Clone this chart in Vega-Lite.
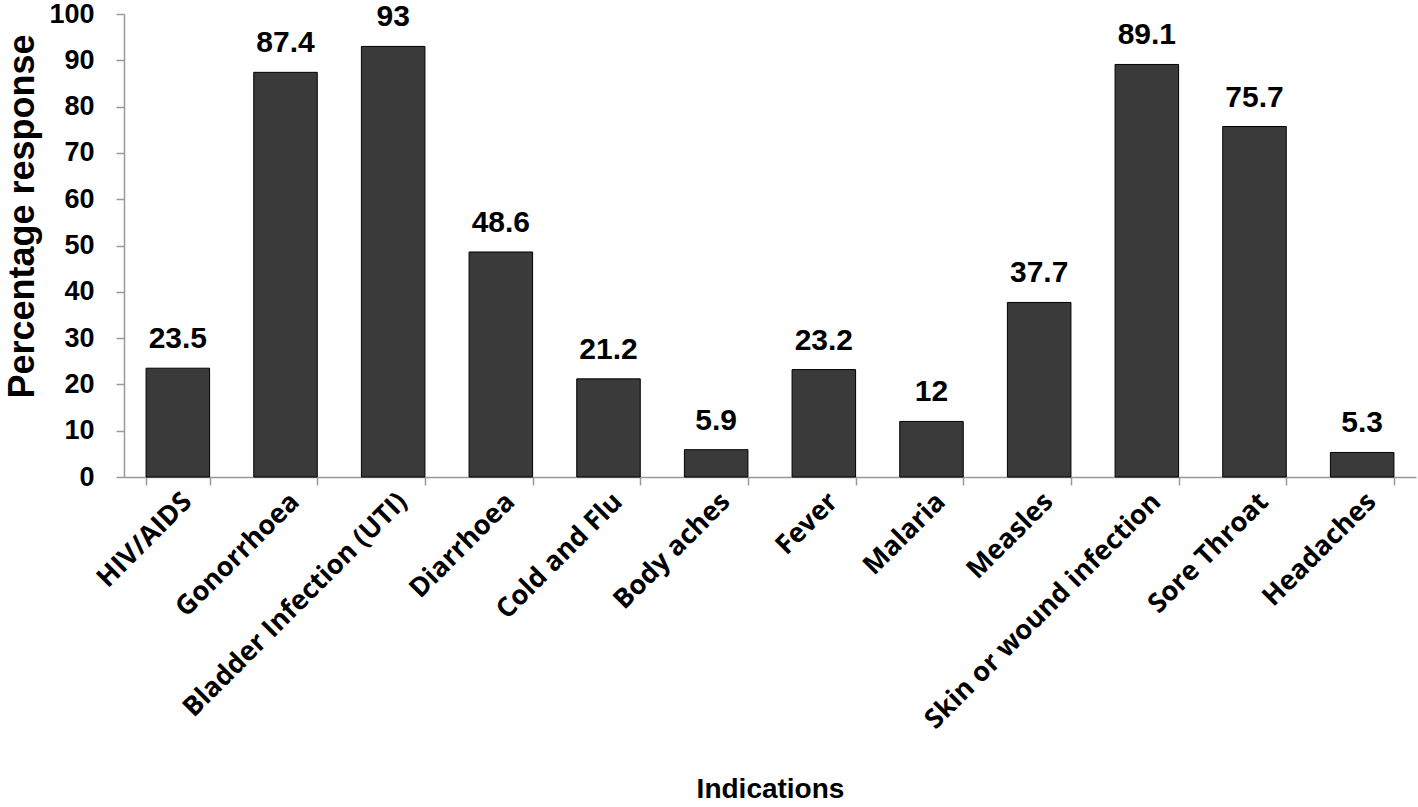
{
  "$schema": "https://vega.github.io/schema/vega-lite/v6.json",
  "autosize": "none",
  "width": 1292,
  "height": 463,
  "padding": {"left": 124, "top": 14, "right": 2, "bottom": 330},
  "background": "white",
  "config": {"view": {"stroke": null}},
  "data": {"values": [
    {"Indication": "HIV/AIDS", "Percent": 23.5},
    {"Indication": "Gonorrhoea", "Percent": 87.4},
    {"Indication": "Bladder Infection (UTI)", "Percent": 93},
    {"Indication": "Diarrhoea", "Percent": 48.6},
    {"Indication": "Cold and Flu", "Percent": 21.2},
    {"Indication": "Body aches", "Percent": 5.9},
    {"Indication": "Fever", "Percent": 23.2},
    {"Indication": "Malaria", "Percent": 12},
    {"Indication": "Measles", "Percent": 37.7},
    {"Indication": "Skin or wound infection", "Percent": 89.1},
    {"Indication": "Sore Throat", "Percent": 75.7},
    {"Indication": "Headaches", "Percent": 5.3}
  ]},
  "encoding": {
    "x": {"field": "Indication", "type": "nominal", "sort": null,
      "scale": {"paddingInner": 0.41, "paddingOuter": 0.205},
      "axis": {"title": "Indications", "titleFont": "Liberation Sans", "titleFontSize": 28, "titleFontWeight": "bold", "titleColor": "black", "titlePadding": 98,
        "labelAngle": -45, "labelAlign": "right", "labelBaseline": "top", "labelFont": "Open Sans", "labelFontSize": 27, "labelFontWeight": "bold", "labelColor": "black", "labelPadding": 3, "labelLimit": 0,
        "tickBand": "extent", "tickColor": "#999", "tickSize": 8, "domainColor": "#999", "domainWidth": 1.5, "tickWidth": 1.5}},
    "y": {"field": "Percent", "type": "quantitative",
      "scale": {"domain": [0, 100], "nice": false},
      "axis": {"title": "Percentage response", "titleFont": "Liberation Sans", "titleFontSize": 36, "titleFontWeight": "bold", "titleColor": "black", "titlePadding": 7, "titleY": 202,
        "values": [0, 10, 20, 30, 40, 50, 60, 70, 80, 90, 100], "grid": false,
        "labelFont": "Liberation Sans", "labelFontSize": 27, "labelFontWeight": "bold", "labelColor": "black", "labelPadding": 22,
        "tickColor": "#999", "tickSize": 8, "tickWidth": 1.5, "domainColor": "#999", "domainWidth": 1.5}}
  },
  "layer": [
    {"mark": {"type": "bar", "fill": "#3a3a3a", "stroke": "black", "strokeWidth": 1}},
    {"mark": {"type": "text", "baseline": "alphabetic", "dy": -20, "font": "Liberation Sans", "fontSize": 30, "fontWeight": "bold", "color": "black"},
      "encoding": {"text": {"field": "Percent", "type": "quantitative"}}}
  ]
}
